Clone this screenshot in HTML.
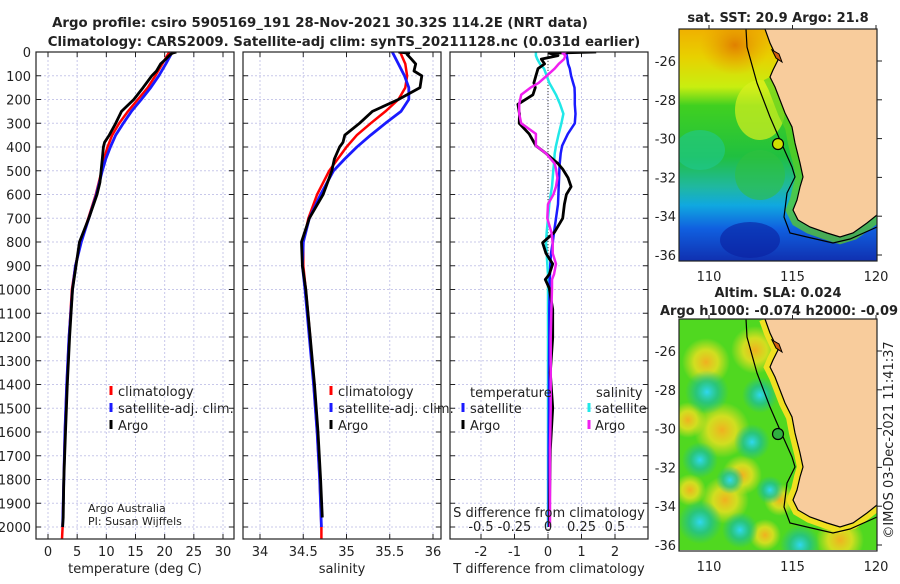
<!DOCTYPE html>
<html><head><meta charset="utf-8">
<style>
html,body{margin:0;padding:0;background:#fff;}
body{width:900px;height:580px;overflow:hidden;font-family:"DejaVu Sans","Liberation Sans",sans-serif;}
svg text{font-family:"DejaVu Sans","Liberation Sans",sans-serif;fill:#222;}
</style></head>
<body>
<svg id="chart" width="900" height="580" viewBox="0 0 900 580" xmlns="http://www.w3.org/2000/svg">
<defs>
<clipPath id="c1"><rect x="36" y="52" width="198" height="487"/></clipPath>
<clipPath id="c2"><rect x="243" y="52" width="198" height="487"/></clipPath>
<clipPath id="c3"><rect x="450" y="52" width="198" height="487"/></clipPath>
<clipPath id="cm1"><rect x="679" y="29" width="198" height="232"/></clipPath>
<clipPath id="cm2"><rect x="679" y="319" width="198" height="231"/></clipPath>
<linearGradient id="sstg" x1="0" y1="0" x2="0" y2="1">
<stop offset="0" stop-color="#f0b000"/><stop offset="0.12" stop-color="#e8d000"/>
<stop offset="0.25" stop-color="#c8ee10"/><stop offset="0.33" stop-color="#40d020"/>
<stop offset="0.55" stop-color="#20c040"/><stop offset="0.68" stop-color="#20b8a0"/>
<stop offset="0.76" stop-color="#10a8e0"/><stop offset="0.86" stop-color="#1060e0"/>
<stop offset="1" stop-color="#1030b0"/></linearGradient>
<radialGradient id="yb"><stop offset="0" stop-color="#f0b020"/><stop offset="0.5" stop-color="#f0e020" stop-opacity="0.8"/><stop offset="1" stop-color="#f0e020" stop-opacity="0"/></radialGradient>
<radialGradient id="cb"><stop offset="0" stop-color="#30d8f0"/><stop offset="0.5" stop-color="#20c090" stop-opacity="0.8"/><stop offset="1" stop-color="#20c090" stop-opacity="0"/></radialGradient>
<radialGradient id="ob"><stop offset="0" stop-color="#e08000"/><stop offset="1" stop-color="#e8a000" stop-opacity="0"/></radialGradient>
</defs>
<g id="root"></g>
</svg>
<script>
// ---------- data ----------
var depthTicks = [0,100,200,300,400,500,600,700,800,900,1000,1100,1200,1300,1400,1500,1600,1700,1800,1900,2000];
var tempTicks = [0,5,10,15,20,25,30];
var salTicks = [34,34.5,35,35.5,36];
var tdiffTicks = [-2,-1,0,1,2];
var sdiffTicks = [-0.5,-0.25,0,0.25,0.5];
var sdiffTickLabels = ["-0.5","-0.25","0","0.25","0.5"];

var climDepth = [0,50,100,150,200,250,300,350,400,450,500,600,700,800,900,1000,1200,1400,1600,1800,2000,2050];
var climTemp  = [20.8,19.6,18.4,17.1,15.4,13.7,12.2,11.0,10.2,9.6,9.2,8.2,6.9,5.6,4.7,4.1,3.6,3.2,2.9,2.7,2.5,2.4];
var satTemp   = [21.3,20.2,19.0,17.6,16.0,14.3,12.9,11.6,10.7,9.9,9.3,8.3,7.0,5.7,4.7,4.2,3.6,3.2,2.9,2.7,2.5,2.5];
var climSal   = [35.62,35.68,35.70,35.68,35.60,35.45,35.28,35.12,35.00,34.90,34.80,34.66,34.56,34.50,34.50,34.53,34.58,34.62,34.66,34.69,34.71,34.71];
var satSal    = [35.53,35.60,35.67,35.72,35.72,35.63,35.45,35.28,35.12,34.98,34.85,34.70,34.57,34.50,34.49,34.52,34.57,34.62,34.66,34.69,34.71,34.71];

var argoDepth = [0,5,10,30,50,80,100,150,200,250,300,350,380,400,450,500,550,600,700,800,900,1000,1200,1400,1600,1800,1960,2000];
var argoTemp  = [22.0,21.3,21.0,20.2,19.3,18.6,17.8,16.3,14.7,12.6,11.6,10.5,9.7,9.5,9.3,9.1,8.9,8.4,7.0,5.4,4.8,4.2,3.7,3.3,3.0,2.7,2.6,2.5];
var argoSal   = [35.60,35.72,35.70,35.75,35.80,35.78,35.87,35.85,35.60,35.30,35.15,34.98,34.96,34.92,34.86,34.83,34.78,34.73,34.57,34.48,34.49,34.53,34.58,34.63,34.67,34.70,34.72,34.72];

var diffDepth = [0,5,15,30,50,70,100,130,150,180,220,260,300,345,395,427,470,493,530,567,600,641,700,759,803,848,892,936,958,995,1084,1202,1350,1498,1675,1850,2000];
var tDiffArgo = [1.44,0.04,0.3,-0.2,-0.1,-0.3,-0.36,-0.42,-0.38,-0.45,-0.9,-0.85,-0.86,-0.56,-0.36,-0.06,0.3,0.44,0.6,0.69,0.55,0.49,0.44,0.19,-0.16,-0.06,0.14,0.04,-0.08,0.04,0.14,0.14,0.07,0.14,0.07,0.05,0.04];
var tDiffSat  = [0.54,0.55,0.56,0.58,0.6,0.65,0.69,0.75,0.79,0.8,0.8,0.82,0.8,0.59,0.42,0.38,0.35,0.34,0.33,0.32,0.31,0.30,0.24,0.18,0.14,0.09,0.07,0.06,0.05,0.05,0.04,0.04,0.03,0.03,0.02,0.02,0.02];
var sDiffSat  = [-0.09,-0.09,-0.09,-0.08,-0.06,-0.03,-0.01,0.01,0.03,0.06,0.09,0.115,0.1,0.08,0.06,0.05,0.045,0.04,0.035,0.03,0.02,0.01,0.0,-0.01,-0.015,-0.01,-0.005,0.0,0.0,0.0,0.0,0.0,0.0,0.0,0.0,0.0,0.0];
var sDiffArgo = [0.135,0.11,0.13,0.12,0.08,0.05,-0.01,-0.07,-0.13,-0.2,-0.215,-0.215,-0.2,-0.09,-0.09,-0.015,0.05,0.06,0.07,0.06,0.04,0.0,-0.005,0.025,0.035,0.035,0.06,0.045,0.03,0.03,0.025,0.02,0.02,0.02,0.015,0.015,0.015];

// ---------- helpers ----------
var NS = "http://www.w3.org/2000/svg";
var root = document.getElementById("root");
function el(tag, attrs, parent){
  var e = document.createElementNS(NS, tag);
  for (var k in attrs) e.setAttribute(k, attrs[k]);
  (parent||root).appendChild(e);
  return e;
}
function txt(x,y,s,size,anchor,weight,parent){
  var t = el("text",{x:x,y:y,"font-size":size,"text-anchor":anchor||"start","font-weight":weight||"normal"},parent);
  t.textContent = s;
  return t;
}
var PT = 52, PB = 539;
function yD(d){ return PT + d*0.2375; }
function lin(v0,p0,v1,p1){ return function(v){ return p0 + (v-v0)*(p1-p0)/(v1-v0); }; }
var xT = lin(0,48,30,223);
var xS = lin(34,260,36,433);
var xTd = lin(0,548,1,581.5);
var xSd = lin(0,548,0.25,581.5);

function panel(x0, name, vTicks, xf, labels){
  var g = el("g",{});
  
  
  for (var i=0;i<depthTicks.length;i++){
    var y = yD(depthTicks[i]);
    el("line",{x1:x0,x2:x0+198,y1:y,y2:y,stroke:"#c8c8ea","stroke-width":1,"stroke-dasharray":"2,2"},g);
    el("line",{x1:x0,x2:x0+5,y1:y,y2:y,stroke:"#222","stroke-width":1},g);
    el("line",{x1:x0+193,x2:x0+198,y1:y,y2:y,stroke:"#222","stroke-width":1},g);
  }
  for (var j=0;j<vTicks.length;j++){
    var x = xf(vTicks[j]);
    el("line",{x1:x,x2:x,y1:PT,y2:PB,stroke:"#c8c8ea","stroke-width":1,"stroke-dasharray":"2,2"},g);
    el("line",{x1:x,x2:x,y1:PB,y2:PB-5,stroke:"#222","stroke-width":1},g);
    el("line",{x1:x,x2:x,y1:PT,y2:PT+5,stroke:"#222","stroke-width":1},g);
    var t = txt(x,556,labels?labels[j]:String(vTicks[j]),13,"middle",null,g);
    
    
  }
  return g;
}
function line(xs, ds, xf, color, w, clip, name){
  var p = "";
  for (var i=0;i<xs.length;i++) p += (i?"L":"M") + xf(xs[i]).toFixed(1) + "," + yD(ds[i]).toFixed(1);
  var e = el("path",{d:p,fill:"none",stroke:color,"stroke-width":w,"stroke-linejoin":"round","clip-path":"url(#"+clip+")"});
  
  
  return e;
}
function frame(x0){
  el("rect",{x:x0,y:PT,width:198,height:PB-PT,fill:"none",stroke:"#222","stroke-width":1.2});
}
function legendMark(x,y,color){
  el("line",{x1:x,x2:x,y1:y-11,y2:y-2,stroke:color,"stroke-width":3});
}

// ---------- titles ----------
var t1 = txt(320,27,"Argo profile: csiro 5905169_191 28-Nov-2021 30.32S 114.2E (NRT data)",13.3,"middle","bold");


var t2 = txt(344,46,"Climatology: CARS2009. Satellite-adj clim: synTS_20211128.nc (0.031d earlier)",13.3,"middle","bold");



// ---------- panel 1: temperature ----------
panel(36,"temperature-panel",tempTicks,xT);
for (var i=0;i<depthTicks.length;i++){
  var yl = txt(31,yD(depthTicks[i])+5,String(depthTicks[i]),13,"end");
  
  
}
line(climTemp,climDepth,xT,"#f00",2.5,"c1","temp-climatology-line");
line(satTemp.slice(0,21),climDepth.slice(0,21),xT,"#1a1aff",2.8,"c1","temp-satellite-line");
line(argoTemp,argoDepth,xT,"#000",2.8,"c1","temp-argo-line");
frame(36);
var xl1 = txt(135,573,"temperature (deg C)",13,"middle");


legendMark(111,397,"#f00"); txt(118,396,"climatology",13);
legendMark(111,414,"#1a1aff"); txt(118,413,"satellite-adj. clim.",13);
legendMark(111,431,"#000"); txt(118,430,"Argo",13);
txt(88,512,"Argo Australia",11);
txt(88,525,"PI: Susan Wijffels",11);

// ---------- panel 2: salinity ----------
panel(243,"salinity-panel",salTicks,xS);
line(climSal,climDepth,xS,"#f00",2.5,"c2","sal-climatology-line");
line(satSal.slice(0,21),climDepth.slice(0,21),xS,"#1a1aff",2.8,"c2","sal-satellite-line");
line(argoSal.slice(0,27),argoDepth.slice(0,27),xS,"#000",2.8,"c2","sal-argo-line");
frame(243);
var xl2 = txt(342,573,"salinity",13,"middle");


legendMark(331,397,"#f00"); txt(338,396,"climatology",13);
legendMark(331,414,"#1a1aff"); txt(338,413,"satellite-adj. clim.",13);
legendMark(331,431,"#000"); txt(338,430,"Argo",13);

// ---------- panel 3: differences ----------
panel(450,"difference-panel",tdiffTicks,xTd);
el("line",{x1:548,x2:548,y1:PT,y2:PB,stroke:"#333","stroke-width":1,"stroke-dasharray":"1,2"});
line(sDiffSat,diffDepth,xSd,"#20e8e8",2.5,"c3","sdiff-satellite-line");
line(tDiffSat,diffDepth,xTd,"#1a1aff",2.5,"c3","tdiff-satellite-line");
line(tDiffArgo,diffDepth,xTd,"#000",2.8,"c3","tdiff-argo-line");
line(sDiffArgo,diffDepth,xSd,"#f020f0",2.5,"c3","sdiff-argo-line");
frame(450);
for (var k=0;k<sdiffTicks.length;k++){
  var sl = txt(xSd(sdiffTicks[k]),531,sdiffTickLabels[k],13,"middle");
  
  
}
txt(549,517,"S difference from climatology",13,"middle");
var xl3 = txt(549,573,"T difference from climatology",13,"middle");


txt(470,397,"temperature",13); txt(596,397,"salinity",13);
legendMark(463,414,"#1a1aff"); txt(470,413,"satellite",13);
legendMark(463,431,"#000"); txt(470,430,"Argo",13);
legendMark(589,414,"#20e8e8"); txt(595,413,"satellite",13);
legendMark(589,431,"#f020f0"); txt(595,430,"Argo",13);

// ---------- maps ----------
var coast = [[765,29],[770,43],[778,60],[773,70],[770,77],[775,87],[780,100],[785,113],[792,127],[795,143],[800,163],[803,177],[800,187],[797,200],[793,210],[798,220],[810,227],[827,233],[840,237],[853,233],[867,223],[877,215]];
var shelf = [[746,29],[747,47],[757,83],[770,117],[780,140],[792,167],[795,177],[787,193],[784,217],[790,233],[807,237],[833,243],[850,239],[877,227]];
function pts(a,dy){ return a.map(function(p){return p[0]+","+(p[1]+dy);}).join(" "); }
function drawMap(dy, clip, kind){
  var g = el("g",{"clip-path":"url(#"+clip+")"});
  
  
  if (kind==="sst"){
    el("rect",{x:679,y:29+dy,width:198,height:232,fill:"url(#sstg)"},g);
    el("ellipse",{cx:735,cy:45+dy,rx:35,ry:30,fill:"url(#ob)"},g);
    el("ellipse",{cx:760,cy:110+dy,rx:25,ry:30,fill:"#d8f020","opacity":0.7},g);
    el("ellipse",{cx:700,cy:150+dy,rx:25,ry:20,fill:"#20c890","opacity":0.6},g);
    el("ellipse",{cx:750,cy:240+dy,rx:30,ry:18,fill:"#0a20a0","opacity":0.6},g);
    el("ellipse",{cx:760,cy:175+dy,rx:25,ry:25,fill:"#30c040","opacity":0.6},g);
    el("polyline",{points:pts(coast.slice(4),dy),fill:"none",stroke:"#60d020","stroke-width":14,opacity:0.7},g);
  } else {
    el("rect",{x:679,y:29+dy,width:198,height:232,fill:"#50d820"},g);
    var yb=[[706,72,24],[755,60,24],[722,140,28],[688,130,18],[742,185,20],[725,210,24],[780,210,16],[840,250,24],[765,245,16],[690,200,16]];
    var cb=[[707,102,22],[760,105,18],[700,170,18],[730,190,14],[700,232,22],[740,240,18],[770,200,14],[800,255,20],[752,152,18]];
    yb.forEach(function(b){ el("circle",{cx:b[0],cy:b[1]+dy,r:b[2],fill:"url(#yb)"},g); });
    cb.forEach(function(b){ el("circle",{cx:b[0],cy:b[1]+dy,r:b[2],fill:"url(#cb)"},g); });
    el("polyline",{points:pts(coast,dy),fill:"none",stroke:"#f0e020","stroke-width":12},g);
  }
  var land = coast.concat([[877,29]]);
  el("polygon",{points:pts(land,dy),fill:"#f8cc9c"},g);
  el("polyline",{points:pts(coast,dy),fill:"none",stroke:"#000","stroke-width":1.2},g);
  el("polyline",{points:pts(shelf,dy),fill:"none",stroke:"#000","stroke-width":1.2},g);
  el("path",{d:"M772,"+(50+dy)+" l4,8 l6,4 l-3,-8 z",fill:"#d06010",stroke:"#000","stroke-width":1},g);
  var dot = el("circle",{cx:778,cy:144+dy,r:5.5,fill:kind==="sst"?"#d0e000":"#30b040",stroke:"#000","stroke-width":1.2});
  
  
  el("rect",{x:679,y:29+dy,width:198,height:232,fill:"none",stroke:"#222","stroke-width":1.2});
  var lats=[-26,-28,-30,-32,-34,-36];
  lats.forEach(function(l){
    var y = 61 + (-26-l)*19.4 + dy;
    el("line",{x1:877,x2:882,y1:y,y2:y,stroke:"#222"});
    txt(676,y+5,String(l),13,"end");
  });
  [110,115,120].forEach(function(l){
    var x = 709 + (l-110)*16.7;
    el("line",{x1:x,x2:x,y1:29+dy,y2:25+dy,stroke:"#222"});
    txt(x,dy+281,String(l),13,"middle");
  });
}
drawMap(0,"cm1","sst");
drawMap(290,"cm2","sla");
var mt1 = txt(778,22,"sat. SST: 20.9 Argo: 21.8",13,"middle","bold");


var mt2 = txt(778,297,"Altim. SLA: 0.024",13,"middle","bold");


var mt3 = txt(660,315,"Argo h1000: -0.074 h2000: -0.09",13,"start","bold");


var ts = txt(0,0,"\u00A9IMOS 03-Dec-2021 11:41:37",13,"middle");
ts.setAttribute("transform","translate(893,440) rotate(-90)");


</script>
</body></html>
